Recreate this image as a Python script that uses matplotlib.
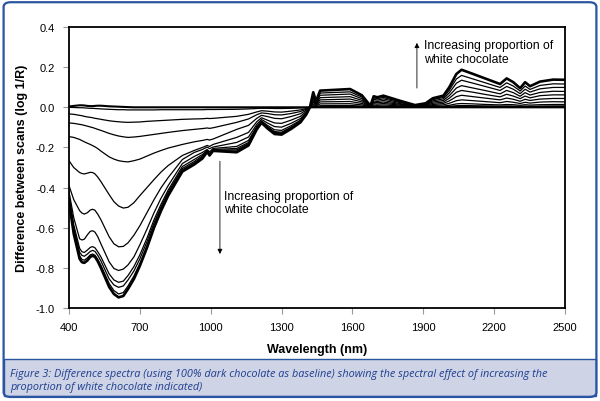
import matplotlib
matplotlib.use('Agg')
import matplotlib.pyplot as plt
from matplotlib.patches import FancyBboxPatch, Rectangle

# wavelength grid (nm)
wavelength = [400, 420, 445, 455, 465, 478, 490, 500, 510, 522, 535, 570, 590, 610, 630, 650, 675, 700, 730, 760,
              790, 820, 880, 930, 965, 985, 995, 1010, 1110, 1160, 1195, 1215, 1240, 1270, 1300, 1340, 1380, 1405, 1420,
              1434, 1446, 1463, 1590, 1640, 1664, 1676, 1690, 1705, 1731, 1800, 1865, 1910, 1940,
              1985, 2010, 2040, 2062, 2111, 2168, 2225, 2253, 2281, 2310, 2331, 2352, 2394, 2450, 2500]

# difference spectra, from smallest to largest share of white chocolate
spec_00 = [0.004, 0.007, 0.01, 0.01, 0.009, 0.007, 0.006, 0.006, 0.007, 0.008, 0.008, 0.005, 0.004, 0.003, 0.002, 0.001,
           0.0, 0.0, 0.0, 0.0, 0.0, 0.0, 0.0, 0.0, 0.0, 0.0, 0.0, 0.0, 0.0, 0.0, 0.0, 0.0, 0.0, 0.0, 0.0, 0.0, 0.0, 0.0, 0.0,
           0.0, 0.0, 0.0, 0.0, 0.0, 0.0, 0.0, 0.0, 0.0, 0.0, 0.0, 0.0, 0.0, 0.0,
           0.0, 0.0, 0.0, 0.0, 0.0, 0.0, 0.0, 0.0, 0.0, 0.0, 0.0, 0.0, 0.0, 0.0, 0.0]
spec_01 = [0.0, -0.001, -0.002, -0.002, -0.003, -0.004, -0.005, -0.005, -0.006, -0.007, -0.008, -0.01, -0.011, -0.012,
           -0.012, -0.013, -0.013, -0.013, -0.013, -0.013, -0.012, -0.012, -0.012, -0.012, -0.012, -0.011, -0.011, -0.011,
           -0.01, -0.008, -0.006, -0.005, -0.005, -0.006, -0.006, -0.005, -0.003, -0.001, 0.0,
           0.001, 0.0, 0.001, 0.001, 0.0, 0.0, 0.0, 0.0, 0.0, 0.0, 0.0, 0.0, 0.0, 0.0,
           0.0, 0.0, 0.001, 0.001, 0.001, 0.001, 0.0, 0.001, 0.001, 0.0, 0.001, 0.0, 0.001, 0.001, 0.001]
spec_02 = [-0.033, -0.035, -0.04, -0.042, -0.045, -0.048, -0.05, -0.052, -0.055, -0.057, -0.06, -0.067, -0.07, -0.072,
           -0.074, -0.075, -0.074, -0.073, -0.07, -0.068, -0.066, -0.064, -0.06, -0.058, -0.057, -0.055, -0.056, -0.055,
           -0.045, -0.035, -0.023, -0.017, -0.019, -0.023, -0.024, -0.019, -0.013, -0.006, 0.0,
           0.002, 0.001, 0.002, 0.002, 0.001, 0.0, 0.0, 0.001, 0.001, 0.001, 0.001, 0.0, 0.0, 0.001,
           0.001, 0.002, 0.003, 0.004, 0.003, 0.003, 0.002, 0.003, 0.003, 0.002, 0.003, 0.002, 0.003, 0.003, 0.003]
spec_03 = [-0.078, -0.08, -0.085, -0.087, -0.09, -0.094, -0.098, -0.101, -0.105, -0.11, -0.115, -0.13, -0.137, -0.143,
           -0.147, -0.15, -0.148, -0.145, -0.14, -0.135, -0.13, -0.125, -0.116, -0.11, -0.106, -0.103, -0.105, -0.102,
           -0.075, -0.058, -0.037, -0.028, -0.031, -0.037, -0.038, -0.031, -0.021, -0.009, 0.0,
           0.004, 0.002, 0.004, 0.005, 0.003, 0.001, 0.0, 0.003, 0.003, 0.003, 0.002, 0.001, 0.001, 0.002,
           0.003, 0.005, 0.008, 0.009, 0.008, 0.007, 0.006, 0.007, 0.006, 0.005, 0.006, 0.005, 0.006, 0.007, 0.007]
spec_04 = [-0.146, -0.15, -0.16, -0.166, -0.172, -0.179, -0.185, -0.191, -0.197, -0.206, -0.218, -0.247, -0.258, -0.266,
           -0.27, -0.272, -0.266, -0.258, -0.243, -0.228, -0.215, -0.203, -0.185, -0.172, -0.165, -0.16, -0.163, -0.158,
           -0.11, -0.09, -0.055, -0.04, -0.046, -0.055, -0.057, -0.046, -0.032, -0.014, 0.0,
           0.008, 0.003, 0.008, 0.009, 0.006, 0.003, 0.001, 0.006, 0.005, 0.006, 0.003, 0.001, 0.002, 0.005,
           0.006, 0.01, 0.017, 0.019, 0.017, 0.014, 0.012, 0.014, 0.013, 0.01, 0.013, 0.011, 0.013, 0.014, 0.014]
spec_05 = [-0.266, -0.3, -0.325, -0.33, -0.332, -0.328, -0.324, -0.325, -0.332, -0.348, -0.37, -0.435, -0.47, -0.492,
           -0.502, -0.498, -0.475, -0.44, -0.4, -0.36, -0.322, -0.29, -0.24, -0.215, -0.2, -0.19, -0.195, -0.185,
           -0.15, -0.125, -0.072, -0.052, -0.064, -0.078, -0.08, -0.064, -0.045, -0.02, 0.0,
           0.015, 0.006, 0.017, 0.018, 0.012, 0.005, 0.002, 0.011, 0.01, 0.012, 0.007, 0.002, 0.004, 0.009,
           0.012, 0.02, 0.033, 0.037, 0.033, 0.028, 0.023, 0.029, 0.025, 0.019, 0.025, 0.021, 0.026, 0.028, 0.027]
spec_06 = [-0.39, -0.46, -0.515, -0.527, -0.532, -0.525, -0.512, -0.508, -0.513, -0.533, -0.56, -0.645, -0.68, -0.695,
           -0.693, -0.675, -0.637, -0.59, -0.525, -0.46, -0.4, -0.35, -0.26, -0.225, -0.21, -0.198, -0.206, -0.198,
           -0.175, -0.148, -0.085, -0.061, -0.078, -0.096, -0.099, -0.08, -0.056, -0.025, 0.0,
           0.024, 0.01, 0.027, 0.029, 0.019, 0.008, 0.003, 0.018, 0.016, 0.019, 0.011, 0.004, 0.006, 0.014,
           0.019, 0.032, 0.053, 0.06, 0.053, 0.045, 0.037, 0.046, 0.04, 0.03, 0.04, 0.034, 0.041, 0.044, 0.044]
spec_07 = [-0.42, -0.55, -0.655, -0.661, -0.657, -0.635, -0.618, -0.615, -0.622, -0.645, -0.68, -0.77, -0.803, -0.813,
           -0.806, -0.785, -0.745, -0.685, -0.607, -0.525, -0.452, -0.39, -0.28, -0.245, -0.225, -0.21, -0.222, -0.205,
           -0.195, -0.165, -0.095, -0.068, -0.09, -0.112, -0.115, -0.092, -0.064, -0.029, 0.0,
           0.034, 0.014, 0.037, 0.041, 0.027, 0.011, 0.004, 0.025, 0.023, 0.026, 0.015, 0.005, 0.009, 0.02,
           0.026, 0.045, 0.075, 0.084, 0.075, 0.063, 0.052, 0.065, 0.056, 0.043, 0.056, 0.047, 0.058, 0.062, 0.062]
spec_08 = [-0.44, -0.585, -0.703, -0.72, -0.723, -0.711, -0.698, -0.694, -0.7, -0.72, -0.745, -0.83, -0.86, -0.872,
           -0.866, -0.838, -0.793, -0.735, -0.652, -0.56, -0.482, -0.412, -0.295, -0.26, -0.235, -0.215, -0.23, -0.21,
           -0.205, -0.175, -0.1, -0.071, -0.096, -0.121, -0.124, -0.099, -0.069, -0.032, 0.0,
           0.044, 0.017, 0.048, 0.053, 0.035, 0.015, 0.005, 0.032, 0.029, 0.034, 0.019, 0.006, 0.012, 0.026,
           0.034, 0.058, 0.096, 0.108, 0.096, 0.082, 0.067, 0.084, 0.073, 0.055, 0.073, 0.061, 0.074, 0.08, 0.079]
spec_09 = [-0.45, -0.6, -0.722, -0.738, -0.742, -0.731, -0.718, -0.713, -0.718, -0.738, -0.765, -0.855, -0.885, -0.897,
           -0.89, -0.86, -0.815, -0.755, -0.67, -0.575, -0.495, -0.422, -0.305, -0.27, -0.242, -0.218, -0.234, -0.213,
           -0.212, -0.18, -0.104, -0.073, -0.099, -0.125, -0.128, -0.102, -0.071, -0.033, 0.0,
           0.054, 0.022, 0.06, 0.066, 0.043, 0.018, 0.006, 0.04, 0.036, 0.042, 0.024, 0.008, 0.014, 0.032,
           0.042, 0.072, 0.12, 0.135, 0.12, 0.102, 0.084, 0.104, 0.09, 0.068, 0.09, 0.076, 0.092, 0.099, 0.099]
spec_10 = [-0.46, -0.615, -0.74, -0.758, -0.762, -0.75, -0.735, -0.731, -0.737, -0.758, -0.787, -0.878, -0.913, -0.93,
           -0.923, -0.89, -0.84, -0.778, -0.69, -0.59, -0.505, -0.432, -0.312, -0.277, -0.248, -0.22, -0.237, -0.215,
           -0.218, -0.185, -0.107, -0.075, -0.102, -0.129, -0.132, -0.105, -0.073, -0.034, 0.0,
           0.064, 0.026, 0.071, 0.077, 0.051, 0.021, 0.007, 0.047, 0.043, 0.049, 0.028, 0.009, 0.017, 0.038,
           0.049, 0.085, 0.141, 0.159, 0.141, 0.12, 0.099, 0.122, 0.106, 0.081, 0.106, 0.089, 0.109, 0.117, 0.116]
spec_11 = [-0.47, -0.63, -0.755, -0.772, -0.775, -0.763, -0.745, -0.74, -0.745, -0.768, -0.8, -0.895, -0.93, -0.947,
           -0.94, -0.905, -0.855, -0.79, -0.7, -0.6, -0.515, -0.44, -0.32, -0.285, -0.255, -0.222, -0.24, -0.217,
           -0.224, -0.19, -0.11, -0.077, -0.105, -0.133, -0.136, -0.108, -0.075, -0.035, 0.0,
           0.075, 0.03, 0.083, 0.091, 0.06, 0.025, 0.008, 0.055, 0.05, 0.058, 0.033, 0.011, 0.02, 0.045,
           0.058, 0.1, 0.166, 0.187, 0.166, 0.141, 0.116, 0.144, 0.125, 0.095, 0.125, 0.105, 0.128, 0.138, 0.137]

thin_spectra = [spec_01, spec_02, spec_03, spec_04, spec_05,
                spec_06, spec_07, spec_08, spec_09, spec_10]

x_ticks = [400, 700, 1000, 1300, 1600, 1900, 2200, 2500]
y_ticks = [-1.0, -0.8, -0.6, -0.4, -0.2, 0.0, 0.2, 0.4]
note_text = 'Increasing proportion of\nwhite chocolate'
caption = ('Figure 3: Difference spectra (using 100% dark chocolate as baseline) showing the spectral effect of increasing the\n'
           'proportion of white chocolate indicated)')

plt.rcParams['font.family'] = ['Liberation Sans', 'DejaVu Sans']

fig = plt.figure(figsize=(6, 4.02), dpi=100)
ax = fig.add_axes([0.115, 0.2313, 0.8267, 0.699])

# baseline (100% dark) drawn a bit heavier, like the stacked zero lines in the original
ax.plot(wavelength, spec_00, color='black', lw=1.5)
for s in thin_spectra:
    ax.plot(wavelength, s, color='black', lw=0.9, solid_joinstyle='round')
ax.plot(wavelength, spec_11, color='black', lw=1.9, solid_joinstyle='round')

ax.set_xlim(400, 2500)
ax.set_ylim(-1.0, 0.4)
ax.set_xticks(x_ticks)
ax.set_yticks(y_ticks)
ax.set_yticklabels([f'{v:.1f}' for v in y_ticks])
ax.tick_params(labelsize=8, length=4, width=0.8, color='#999999', pad=6)
for sp in ax.spines.values():
    sp.set_linewidth(1.3)
ax.set_xlabel('Wavelength (nm)', fontsize=9, fontweight='bold', labelpad=8)
ax.set_ylabel('Difference between scans (log 1/R)', fontsize=9, fontweight='bold', labelpad=6)

# arrows and notes
ax.annotate('', xy=(1039, -0.745), xytext=(1039, -0.255),
            arrowprops=dict(arrowstyle='-|>', color='black', lw=0.6, mutation_scale=7))
ax.text(1056, -0.475, note_text, fontsize=8.8, va='center', ha='left', linespacing=1.15)
ax.annotate('', xy=(1873, 0.335), xytext=(1873, 0.082),
            arrowprops=dict(arrowstyle='-|>', color='black', lw=0.6, mutation_scale=7))
ax.text(1903, 0.275, note_text, fontsize=8.8, va='center', ha='left', linespacing=1.15)

# page frame and caption band
fig.patches.append(Rectangle((0.006, 0.012), 0.988, 0.093, transform=fig.transFigure,
                             facecolor='#cfd3e6', edgecolor='#2b55a0', lw=1.0, zorder=0))
fig.patches.append(FancyBboxPatch((0.006, 0.01), 0.988, 0.982, transform=fig.transFigure,
                                  boxstyle='round,pad=0,rounding_size=0.012',
                                  facecolor='none', edgecolor='#2b55a0', lw=1.6, zorder=1))
fig.text(0.017, 0.053, caption, fontsize=7.8, style='italic', color='#1d3f8f',
         family=['Open Sans', 'DejaVu Sans'], va='center', ha='left', linespacing=1.25)

fig.savefig('out.png', dpi=100)
